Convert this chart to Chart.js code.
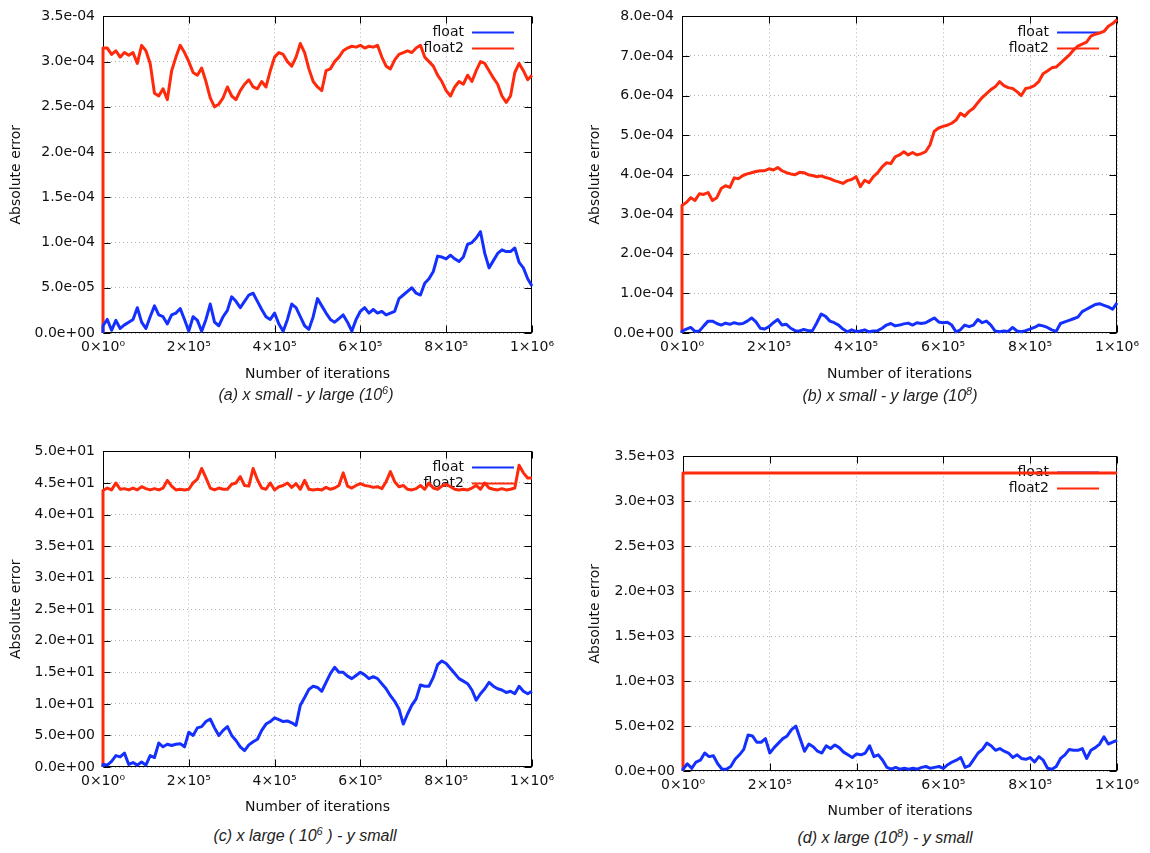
<!DOCTYPE html>
<html><head><meta charset="utf-8">
<script src="https://cdn.jsdelivr.net/npm/chart.js@4.4.1/dist/chart.umd.min.js"></script>
<style>
html,body{margin:0;padding:0;background:#fff;}
body{width:1150px;height:853px;position:relative;overflow:hidden;}
.panel{position:absolute;}
.panel canvas{display:block;}
.cap{position:absolute;font-family:"Liberation Sans",Arial,sans-serif;font-style:italic;font-size:16px;line-height:18px;color:#222;white-space:nowrap;transform:translateX(-50%);}
.cap sup{font-size:11px;vertical-align:0;position:relative;top:-6px;}
</style></head><body>
<div class="panel" style="left:0px;top:0px"><canvas id="ca" width="560" height="385"></canvas></div>
<div class="panel" style="left:580px;top:0px"><canvas id="cb" width="570" height="385"></canvas></div>
<div class="panel" style="left:0px;top:435px"><canvas id="cc" width="560" height="385"></canvas></div>
<div class="panel" style="left:580px;top:440px"><canvas id="cd" width="570" height="385"></canvas></div>
<div class="cap" style="left:306px;top:386px">(a) x small - y large (10<sup>6</sup>)</div>
<div class="cap" style="left:890px;top:387px">(b) x small - y large (10<sup>8</sup>)</div>
<div class="cap" style="left:305px;top:827px">(c) x large ( 10<sup>6</sup> ) - y small</div>
<div class="cap" style="left:885px;top:829px">(d) x large (10<sup>8</sup>) - y small</div>
<script>
// iterations in thousands
const iterK = [0,10,20,30,40,50,60,70,80,90,100,110,120,130,140,150,160,170,180,190,
 200,210,220,230,240,250,260,270,280,290,300,310,320,330,340,350,360,370,380,390,
 400,410,420,430,440,450,460,470,480,490,500,510,520,530,540,550,560,570,580,590,
 600,610,620,630,640,650,660,670,680,690,700,710,720,730,740,750,760,770,780,790,
 800,810,820,830,840,850,860,870,880,890,900,910,920,930,940,950,960,970,980,990,1000];

const xTickValues = [0, 200000, 400000, 600000, 800000, 1000000];
const xTickLabels = ['0×10⁰','2×10⁵','4×10⁵','6×10⁵','8×10⁵','1×10⁶'];

// (a) x small - y large (1e6)
const yTicksA = [0, 5e-5, 1e-4, 1.5e-4, 2e-4, 2.5e-4, 3e-4, 3.5e-4];
const float2A = [3.15,3.15,3.08,3.12,3.05,3.10,3.07,3.10,2.98,3.18,
 3.12,2.98,2.65,2.62,2.70,2.58,2.90,3.05,3.18,3.10,
 3.00,2.88,2.85,2.93,2.78,2.60,2.50,2.53,2.60,2.72,
 2.62,2.58,2.68,2.75,2.80,2.72,2.70,2.78,2.72,2.90,
 3.05,3.10,3.08,3.00,2.95,3.05,3.20,3.10,2.92,2.78,
 2.72,2.68,2.90,2.92,3.00,3.05,3.12,3.15,3.17,3.16,
 3.18,3.15,3.17,3.16,3.18,3.05,2.95,2.92,3.02,3.08,
 3.10,3.12,3.10,3.15,3.18,3.05,3.00,2.95,2.85,2.78,
 2.68,2.62,2.72,2.78,2.75,2.85,2.78,2.90,3.00,2.98,
 2.90,2.82,2.75,2.62,2.55,2.62,2.88,2.98,2.90,2.80,
 2.85]; // x1e-4
const floatA = [0.8,1.5,0.3,1.4,0.5,0.9,1.2,1.5,2.8,1.2,
 0.5,1.8,3.0,2.0,1.8,1.0,2.0,2.2,2.7,1.5,
 0.2,1.8,1.4,0.2,1.5,3.2,1.2,0.8,1.8,2.5,
 4.0,3.5,2.8,3.5,4.2,4.4,3.5,2.6,1.8,1.5,
 2.2,1.0,0.2,1.5,3.2,2.8,1.8,0.8,0.4,1.8,
 3.8,3.0,2.2,1.5,1.2,1.6,2.0,1.2,0.2,1.5,
 2.4,2.8,2.2,2.6,2.2,2.4,2.0,2.2,2.4,3.8,
 4.2,4.6,5.0,4.4,4.2,5.5,6.0,6.8,8.5,8.4,
 8.2,8.6,8.2,7.9,8.4,9.8,10.0,10.5,11.2,8.8,
 7.2,8.0,8.8,9.2,9.0,9.0,9.4,7.8,7.2,6.0,
 5.2]; // x1e-5

// (b) x small - y large (1e8)
const yTicksB = [0, 1e-4, 2e-4, 3e-4, 4e-4, 5e-4, 6e-4, 7e-4, 8e-4];
const float2B = [3.22,3.30,3.42,3.35,3.52,3.50,3.55,3.35,3.42,3.65,
 3.72,3.68,3.92,3.90,3.98,4.02,4.05,4.08,4.10,4.10,
 4.15,4.12,4.18,4.10,4.05,4.02,4.00,4.06,4.05,4.00,
 3.98,3.95,3.97,3.93,3.90,3.85,3.82,3.78,3.85,3.88,
 3.95,3.70,3.86,3.80,3.95,4.05,4.20,4.30,4.28,4.45,
 4.50,4.58,4.50,4.56,4.50,4.53,4.58,4.75,5.10,5.18,
 5.22,5.25,5.30,5.38,5.55,5.48,5.60,5.68,5.82,5.95,
 6.05,6.15,6.22,6.35,6.25,6.20,6.18,6.10,6.00,6.18,
 6.20,6.25,6.35,6.55,6.62,6.70,6.72,6.82,6.92,7.02,
 7.15,7.25,7.30,7.35,7.50,7.55,7.58,7.62,7.75,7.82,
 7.92]; // x1e-4
const floatB = [0.5,1.0,1.4,0.4,0.5,1.8,3.0,3.0,2.4,2.0,
 2.5,2.2,2.6,2.3,2.4,3.0,3.8,2.8,1.2,1.0,
 1.6,2.6,3.4,2.0,2.2,1.2,0.6,0.5,0.9,0.6,
 0.6,2.6,4.8,4.2,3.0,2.6,2.0,1.0,0.3,0.8,
 0.4,0.5,0.8,0.3,0.5,0.6,1.2,2.0,2.4,1.8,
 2.0,2.3,2.5,2.0,2.6,2.4,2.6,3.2,3.8,2.8,
 2.6,2.7,2.0,0.3,0.8,2.0,1.6,2.0,3.4,2.6,
 3.0,2.0,0.5,0.3,0.5,0.4,1.4,0.5,0.3,0.6,
 1.0,1.4,2.0,1.8,1.4,0.8,0.4,2.4,2.8,3.2,
 3.6,4.0,5.4,6.0,6.6,7.2,7.4,7.0,6.6,6.0,
 7.6]; // x1e-5

// (c) x large (1e6) - y small
const yTicksC = [0, 5, 10, 15, 20, 25, 30, 35, 40, 45, 50];
const float2C = [43.8,44.2,43.9,45.0,44.0,44.1,43.9,44.2,43.9,44.4,
 44.1,43.9,44.1,43.9,44.2,45.4,44.5,43.9,44.0,43.9,
 44.0,45.0,45.6,47.3,45.8,44.2,43.9,44.2,44.0,44.0,
 44.8,45.0,46.0,44.6,44.5,47.3,45.5,44.2,44.0,45.0,
 43.9,44.4,44.6,45.0,44.3,44.9,44.0,45.4,44.0,43.9,
 44.0,43.9,44.3,44.0,44.2,44.6,46.6,44.5,44.2,44.6,
 44.9,44.6,44.5,44.3,44.4,44.1,45.2,46.8,45.2,44.4,
 44.6,44.0,43.9,44.1,44.6,44.0,45.0,44.2,44.0,44.5,
 44.8,44.4,44.0,43.9,44.0,43.9,44.2,44.6,44.0,45.0,
 44.2,44.0,43.9,44.1,43.9,44.0,44.2,47.8,46.6,45.8,
 45.8];
const floatC = [0.4,0.3,0.9,1.8,1.6,2.2,0.4,0.7,0.3,0.8,
 0.3,1.8,1.5,3.8,3.2,3.6,3.4,3.6,3.7,3.2,
 5.5,5.0,6.2,6.4,7.2,7.6,6.2,5.0,5.8,6.4,
 5.0,4.2,3.2,2.6,3.5,4.0,4.4,5.8,6.8,7.2,
 7.8,7.5,7.2,7.3,7.0,6.6,9.8,11.0,12.3,12.8,
 12.6,12.0,13.4,14.8,15.8,15.0,15.0,14.4,14.0,14.5,
 15.0,14.6,14.0,14.3,14.0,13.2,12.4,11.3,10.4,9.2,
 6.8,8.4,9.8,10.8,13.0,12.8,12.8,14.2,16.2,16.8,
 16.4,15.6,14.8,14.0,13.6,13.2,12.2,10.6,11.6,12.4,
 13.4,12.8,12.4,12.2,11.8,12.0,11.6,12.8,12.0,11.6,
 12.0];

// (d) x large (1e8) - y small
const yTicksD = [0, 500, 1000, 1500, 2000, 2500, 3000, 3500];
const float2D = [3315,3315,3316,3315,3314,3315,3315,3316,3315,3315,
 3314,3315,3315,3316,3315,3315,3314,3315,3315,3316,
 3315,3315,3314,3315,3316,3315,3315,3315,3314,3315,
 3316,3315,3315,3314,3315,3315,3316,3315,3315,3314,
 3315,3315,3316,3315,3315,3314,3315,3315,3316,3315,
 3315,3314,3315,3315,3316,3315,3315,3314,3315,3315,
 3316,3315,3315,3314,3315,3315,3316,3315,3315,3314,
 3315,3315,3316,3315,3315,3314,3315,3315,3316,3315,
 3315,3314,3315,3315,3316,3315,3315,3314,3315,3315,
 3316,3315,3315,3314,3315,3315,3316,3315,3315,3314,
 3315];
const floatD = [0.2,0.8,0.3,1.0,1.2,2.0,1.6,1.7,0.8,0.2,
 0.2,0.5,1.3,1.8,2.4,4.0,3.9,3.2,3.2,3.6,
 2.0,2.6,3.1,3.6,3.9,4.6,5.0,3.6,2.2,3.0,
 2.7,2.2,2.0,2.8,2.5,2.9,2.6,2.1,1.8,1.5,
 1.9,1.8,2.0,2.8,1.6,1.8,1.2,0.4,0.2,0.4,
 0.2,0.3,0.2,0.3,0.2,0.4,0.5,0.3,0.4,0.5,
 0.3,0.7,1.0,1.2,1.5,0.4,0.6,1.3,2.0,2.4,
 3.1,2.8,2.3,2.5,2.2,2.0,1.5,1.8,1.4,1.3,
 1.5,1.0,1.6,1.2,0.3,0.2,0.5,1.4,1.8,2.4,
 2.3,2.3,2.5,1.4,2.3,2.6,3.0,3.8,3.0,3.2,
 3.4]; // x100

const BLUE = '#1430ff';
const RED = '#ff2a0c';
const TXT = '#111111';
const FONT = {family: '"DejaVu Sans", sans-serif', size: 14};

function fmtExp(v) {
  const s = Number(v).toExponential(1);
  const parts = s.split('e');
  const sign = parts[1][0] === '-' ? '-' : '+';
  const d = parts[1].replace(/^[+-]/, '').padStart(2, '0');
  return parts[0] + 'e' + sign + d;
}

function series(vals, scale) {
  const pts = [{x: 0, y: 0}];
  vals.forEach((v, i) => pts.push({x: iterK[i] * 1000, y: v * scale}));
  return pts;
}

const framePlugin = {
  id: 'gnuframe',
  beforeDatasetsDraw(chart) {
    const {ctx, chartArea: a, scales} = chart;
    const x = scales.x, y = scales.y;
    ctx.save();
    ctx.strokeStyle = '#000';
    ctx.lineWidth = 1;
    const L = Math.round(a.left) + 0.5, R = Math.round(a.right) - 0.5;
    const T = Math.round(a.top) + 0.5, B = Math.round(a.bottom) - 0.5;
    ctx.strokeRect(L, T, R - L, B - T);
    const TL = 7;
    ctx.beginPath();
    x.ticks.forEach(t => {
      const px = Math.round(x.getPixelForValue(t.value)) + 0.5;
      ctx.moveTo(px, B); ctx.lineTo(px, B - TL);
      ctx.moveTo(px, T); ctx.lineTo(px, T + TL);
    });
    y.ticks.forEach(t => {
      const py = Math.round(y.getPixelForValue(t.value)) + 0.5;
      ctx.moveTo(L, py); ctx.lineTo(L + TL, py);
      ctx.moveTo(R, py); ctx.lineTo(R - TL, py);
    });
    ctx.stroke();
    // key (legend) top-right inside the frame
    ctx.font = '14px "DejaVu Sans", sans-serif';
    ctx.textAlign = 'right';
    ctx.textBaseline = 'middle';
    chart.data.datasets.forEach((ds, i) => {
      const yy = a.top + 16 + i * 16;
      const x2 = a.right - 18, x1 = x2 - 42;
      ctx.fillStyle = TXT;
      ctx.fillText(ds.label, x1 - 8, yy);
      ctx.strokeStyle = ds.borderColor;
      ctx.lineWidth = 2;
      ctx.beginPath();
      ctx.moveTo(x1, Math.round(yy) + 0.5);
      ctx.lineTo(x2, Math.round(yy) + 0.5);
      ctx.stroke();
    });
    ctx.restore();
  }
};

function makePanel(id, p) {
  const gridCommon = {color: '#b4b4b4', lineWidth: 1, drawTicks: false};
  new Chart(document.getElementById(id), {
    type: 'line',
    data: {
      datasets: [
        {label: 'float', data: series(p.blue, p.blueScale), borderColor: BLUE, borderWidth: 3, pointRadius: 0, tension: 0, clip: false, borderJoinStyle: 'round'},
        {label: 'float2', data: series(p.red, p.redScale), borderColor: RED, borderWidth: 3, pointRadius: 0, tension: 0, clip: false, borderJoinStyle: 'round'}
      ]
    },
    options: {
      responsive: false,
      animation: false,
      events: [],
      layout: {padding: {top: p.padTop, right: p.padRight, left: 0, bottom: 0}},
      plugins: {legend: {display: false}, tooltip: {enabled: false}},
      scales: {
        x: {
          type: 'linear', min: 0, max: 1000000,
          afterBuildTicks: s => { s.ticks = xTickValues.map(v => ({value: v})); },
          afterFit: s => { s.height = p.xH; },
          grid: gridCommon,
          border: {display: false, dash: [1, 3]},
          ticks: {padding: 6, maxRotation: 0, autoSkip: false, font: FONT, color: TXT,
                  callback: (v, i) => xTickLabels[i]},
          title: {display: true, text: 'Number of iterations', font: FONT, color: TXT,
                  padding: {top: 0, bottom: p.xTitlePad}}
        },
        y: {
          type: 'linear', min: 0, max: p.yTicks[p.yTicks.length - 1],
          afterBuildTicks: s => { s.ticks = p.yTicks.map(v => ({value: v})); },
          afterFit: s => { s.width = p.yW; },
          grid: gridCommon,
          border: {display: false, dash: [1, 3]},
          ticks: {padding: 8, font: FONT, color: TXT, callback: v => fmtExp(v)},
          title: {display: true, text: 'Absolute error', font: FONT, color: TXT,
                  padding: {top: p.yTitlePad, bottom: 0}}
        }
      }
    },
    plugins: [framePlugin]
  });
}

makePanel('ca', {blue: floatA, blueScale: 1e-5, red: float2A, redScale: 1e-4, yTicks: yTicksA,
  padTop: 15, padRight: 22, yW: 103, xH: 52, xTitlePad: 2, yTitlePad: 8});
makePanel('cb', {blue: floatB, blueScale: 1e-5, red: float2B, redScale: 1e-4, yTicks: yTicksB,
  padTop: 15, padRight: 33, yW: 102, xH: 52, xTitlePad: 2, yTitlePad: 7});
makePanel('cc', {blue: floatC, blueScale: 1, red: float2C, redScale: 1, yTicks: yTicksC,
  padTop: 13, padRight: 22, yW: 103, xH: 53, xTitlePad: 4, yTitlePad: 8});
makePanel('cd', {blue: floatD, blueScale: 100, red: float2D, redScale: 1, yTicks: yTicksD,
  padTop: 13, padRight: 33, yW: 103, xH: 54, xTitlePad: 5, yTitlePad: 7});
</script>
</body></html>
